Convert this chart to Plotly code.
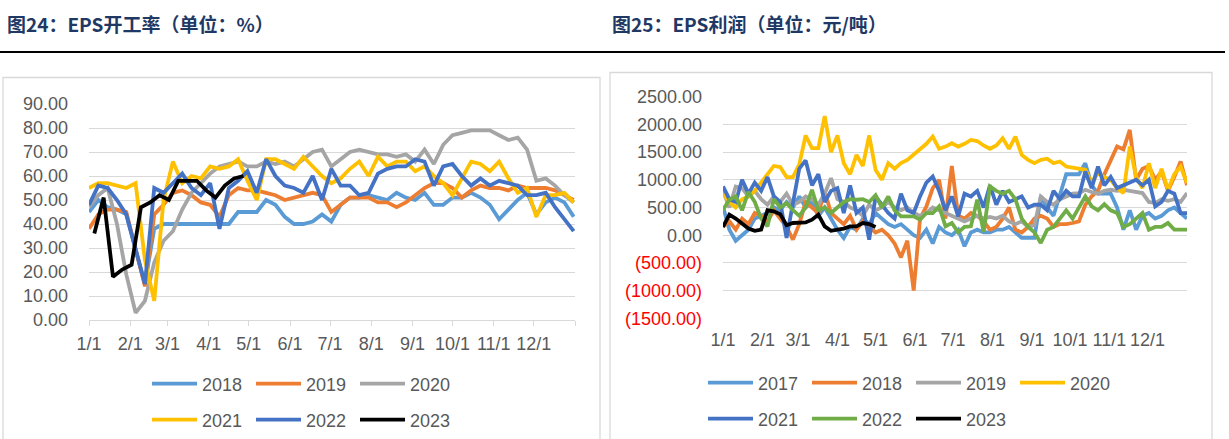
import plotly.graph_objects as go

W, H = 1229, 439

def fx(p):
    return p / W

def fy(p):
    return 1 - p / H

# ---------------- data ----------------
month_labels = ["1/1", "2/1", "3/1", "4/1", "5/1", "6/1", "7/1", "8/1", "9/1", "10/1", "11/1", "12/1"]
month_days = [1, 32, 60, 91, 121, 152, 182, 213, 244, 274, 305, 335]

# Left chart: EPS operating rate (%), weekly
rate_years = ["2018", "2019", "2020", "2021", "2022", "2023"]
rate_2018 = [45, 50, 47, 46, 44, 30, 15, 38, 40, 40, 40, 40, 40, 40, 40, 40, 45, 45, 45, 50,
             48, 43, 40, 40, 41, 44, 41, 48, 51, 51, 52, 51, 50, 53, 51, 50, 53, 48, 48, 51,
             51, 53, 51, 48, 42, 46, 50, 53, 44, 49, 51, 49, 43]
rate_2019 = [38, 44, 46, 46, 45, 30, 14, 44, 48, 53, 54, 52, 49, 48, 43, 52, 55, 54, 54, 53,
             52, 50, 51, 52, 53, 52, 45, 48, 51, 51, 51, 49, 49, 47, 49, 52, 55, 57, 57, 55,
             51, 54, 56, 55, 55, 54, 56, 55, 55, 55, 54, 52, 50]
rate_2020 = [47, 52, 55, 40, 19, 3, 8, 24, 33, 37, 46, 53, 57, 61, 64, 65, 66, 64, 64, 66,
             65, 66, 64, 67, 70, 71, 64, 67, 70, 71, 70, 69, 69, 68, 69, 66, 71, 65, 73, 77,
             78, 79, 79, 79, 77, 75, 76, 71, 58, 59, 56, 52, 49]
rate_2021 = [55, 57, 57, 56, 55, 57, 25, 8, 50, 66, 57, 60, 59, 64, 63, 64, 67, 58, 50, 67,
             67, 65, 63, 68, 64, 60, 57, 59, 63, 66, 60, 68, 64, 66, 66, 62, 64, 60, 57, 52,
             59, 66, 65, 62, 66, 59, 53, 55, 43, 52, 52, 53, 49]
rate_2022 = [48, 56, 55, 50, 44, 30, 15, 55, 53, 57, 61, 55, 52, 57, 38, 55, 58, 62, 53, 67,
             60, 56, 55, 53, 60, 50, 63, 56, 56, 52, 53, 61, 63, 64, 64, 67, 66, 56, 64, 65,
             60, 56, 59, 56, 58, 57, 56, 52, 52, 53, 47, 42, 37]
rate_2023 = [36, 51, 18, 21, 23, 47, 49, 52, 50, 58, 58, 58, 54, 51, 56, 59, 60]
rate_start_day = {"2018": 1, "2019": 1, "2020": 1, "2021": 1, "2022": 1, "2023": 5}

# Right chart: EPS profit (yuan/ton), every 5 days
profit_years = ["2017", "2018", "2019", "2020", "2021", "2022", "2023"]
profit_2017 = [520, 100, -100, 0, 100, 300, 350, 400, 500, 450, 600, 500, 700, 500, 600, 350, 500, 300, 100, -50,
               150, 100, 300, 200, 400, 300, 200, 150, 200, 100, 0, -50, 100, -150, 150, 50, 0, 100, -200, 50,
               100, 50, 50, 100, 100, 150, 50, -50, -50, -50, 700, 500, 350, 700, 1100, 1100, 1100, 1300, 900, 750,
               750, 750, 500, 100, 450, 100, 350, 400, 300, 350, 450, 500, 400, 300]
profit_2018 = [150, 250, 100, 300, 200, 400, 350, 250, 450, 300, 150, -80, 200, 600, 500, 400, 790, 400, 300, 200,
               350, 100, 250, 150, 50, 100, 0, -150, -400, -100, -1000, 300, 520, 850, 1000, 300, 1250, 350, 300, 400,
               350, 250, 100, 150, 300, 500, 100, 50, 150, 300, 350, 300, 150, 200, 200, 220, 250, 550, 700, 800,
               1100, 1350, 1600, 1550, 1900, 1000, 1200, 1250, 1000, 1150, 800, 1050, 1330, 900]
profit_2019 = [800, 500, 880, 850, 700, 800, 650, 550, 700, 600, 750, 550, 600, 700, 650, 550, 750, 1030, 650, 600,
               500, 450, 350, 550, 450, 500, 600, 500, 450, 500, 400, 350, 400, 500, 450, 400, 350, 300, 250, 300,
               350, 300, 330, 300, 350, 250, 200, 250, 150, 180, 700, 600, 550, 650, 700, 750, 760, 820, 780, 750,
               800, 820, 800, 820, 800, 780, 760, 600, 580, 650, 620, 650, 600, 760]
profit_2020 = [750, 600, 500, 650, 700, 800, 950, 1100, 1250, 1230, 1050, 1050, 1280, 1800, 1570, 1570, 2150, 1500, 1800, 1300,
               1100, 1450, 1250, 1800, 1180, 1000, 1300, 1200, 1300, 1360, 1450, 1550, 1650, 1780, 1560, 1600, 1660, 1600, 1650, 1720,
               1700, 1620, 1560, 1620, 1750, 1560, 1780, 1450, 1360, 1300, 1360, 1380, 1300, 1330, 1240, 1220, 1200, 1180, 950, 1120,
               1050, 1000, 850, 760, 1600, 1050, 850, 1300, 850, 1200, 820, 1100, 1240, 940]
profit_2021 = [880, 650, 600, 1000, 750, 950, 800, 1050, 700, 600, -50, 600, 1200, 1350, 900, 1100, 600, 800, 850, 400,
               900, 400, 500, -80, 700, 550, 400, 300, 750, 450, 400, 700, 950, 1060, 800, 450, 700, 340, 750, 700,
               800, 500, 900, 550, 800, 600, 650, 700, 500, 550, 550, 450, 800, 650, 800, 700, 700, 1150, 850, 1240,
               900, 1050, 850, 900, 950, 1000, 900, 1000, 520, 600, 800, 750, 400, 400]
profit_2022 = [460, 640, 700, 450, 780, 600, 300, 160, 650, 500, 580, 450, 350, 500, 820, 450, 500, 400, 500, 600,
               650, 640, 650, 600, 720, 500, 700, 450, 340, 340, 340, 280, 400, 400, 520, 160, 220, 50, 150, 160,
               640, 60, 880, 800, 750, 800, 650, 300, 150, 50, -140, 100, 150, 300, 450, 300, 500, 700, 520, 450,
               560, 450, 400, 150, 200, 300, 400, 100, 150, 150, 220, 100, 100, 100]
profit_2023 = [150, 370, 300, 200, 120, 80, 100, 450, 430, 380, 180, 220, 220, 230, 280, 370, 160, 80, 100, 120,
               160, 160, 220, 200, 150]

rate_series = dict(zip(rate_years, [rate_2018, rate_2019, rate_2020, rate_2021, rate_2022, rate_2023]))
profit_series = dict(zip(profit_years, [profit_2017, profit_2018, profit_2019, profit_2020,
                                        profit_2021, profit_2022, profit_2023]))

rate_ticks = list(range(0, 91, 10))
profit_ticks = list(range(-1500, 2501, 500))

# ---------------- styles ----------------
colors_rate = {"2018": "#5B9BD5", "2019": "#ED7D31", "2020": "#A5A5A5",
               "2021": "#FFC000", "2022": "#4472C4", "2023": "#000000"}
colors_profit = {"2017": "#5B9BD5", "2018": "#ED7D31", "2019": "#A5A5A5", "2020": "#FFC000",
                 "2021": "#4472C4", "2022": "#70AD47", "2023": "#000000"}
GRID = "#D9D9D9"
TXT = "#595959"
FONT = "Liberation Sans"
LW = 3.8

fig = go.Figure()

for i, yr in enumerate(rate_years):
    vals = rate_series[yr]
    xs = [rate_start_day[yr] + 7 * k for k in range(len(vals))]
    fig.add_trace(go.Scatter(
        x=xs, y=vals, mode="lines", name=yr,
        line=dict(color=colors_rate[yr], width=LW),
        xaxis="x", yaxis="y",
        legend="legend" if i < 3 else "legend2",
        hoverinfo="skip"))

for i, yr in enumerate(profit_years):
    vals = profit_series[yr]
    xs = [1 + 5 * k for k in range(len(vals))]
    fig.add_trace(go.Scatter(
        x=xs, y=vals, mode="lines", name=yr,
        line=dict(color=colors_profit[yr], width=LW),
        xaxis="x2", yaxis="y2",
        legend="legend3" if i < 4 else "legend4",
        hoverinfo="skip"))

x1_dom = [fx(89), fx(575)]
y1_dom = [fy(320), fy(104)]
x2_dom = [fx(723), fx(1187)]
y2_dom = [fy(318.3), fy(96.7)]
zero_pos = y2_dom[0] + (0 - profit_ticks[0]) / (profit_ticks[-1] - profit_ticks[0]) * (y2_dom[1] - y2_dom[0])

tick_font = dict(family=FONT, size=18, color=TXT)

profit_text = []
for v in profit_ticks:
    if v < 0:
        profit_text.append("<span style='color:#FF0000'>(%.2f)</span>" % abs(v))
    else:
        profit_text.append("%.2f" % v)

legend_common = dict(orientation="h", xanchor="left", yanchor="middle",
                     itemwidth=45, entrywidth=44, bgcolor="rgba(0,0,0,0)",
                     font=dict(family=FONT, size=18, color=TXT), traceorder="normal")

fig.update_layout(
    width=W, height=H,
    margin=dict(l=0, r=0, t=0, b=0, pad=0, autoexpand=False),
    paper_bgcolor="white", plot_bgcolor="white",
    xaxis=dict(domain=x1_dom, anchor="y", range=[1, 366], automargin=False,
               tickvals=month_days + [366], ticktext=month_labels + [""],
               ticks="outside", ticklen=5, tickcolor=GRID, tickwidth=1,
               showline=True, linecolor=GRID, linewidth=1,
               showgrid=False, zeroline=False, tickfont=tick_font, ticklabelstandoff=2),
    yaxis=dict(domain=y1_dom, anchor="x", range=[0, 90], automargin=False,
               tickvals=rate_ticks, ticktext=["%.2f" % v for v in rate_ticks],
               showgrid=True, gridcolor=GRID, gridwidth=1, zeroline=False,
               showline=False, ticks="", tickfont=tick_font, ticklabelstandoff=20),
    xaxis2=dict(domain=x2_dom, anchor="y2", range=[1, 366], automargin=False,
                tickvals=month_days, ticktext=month_labels,
                ticks="", showline=False, showgrid=False, zeroline=False,
                tickfont=tick_font, ticklabelstandoff=9),
    yaxis2=dict(domain=y2_dom, anchor="x2", range=[profit_ticks[0], profit_ticks[-1]], automargin=False,
                tickvals=profit_ticks, ticktext=profit_text,
                showgrid=True, gridcolor=GRID, gridwidth=1, zeroline=False,
                showline=False, ticks="", tickfont=tick_font, ticklabelstandoff=20),
    xaxis3=dict(domain=x2_dom, overlaying="x2", anchor="free", position=zero_pos,
                range=[1, 366], tickvals=month_days + [366], automargin=False,
                ticks="outside", ticklen=5, tickcolor=GRID, tickwidth=1,
                showticklabels=False, showline=True, linecolor=GRID, linewidth=1,
                showgrid=False, zeroline=False),
    legend=dict(x=fx(147), y=fy(384), **legend_common),
    legend2=dict(x=fx(147), y=fy(420), **legend_common),
    legend3=dict(x=fx(703), y=fy(383), **legend_common),
    legend4=dict(x=fx(703), y=fy(419), **legend_common),
    showlegend=True,
)

title_font = dict(family="Noto Sans CJK SC", size=19, color="#1F3864")
fig.add_annotation(text="<b>图24：EPS开工率（单位：%）</b>", x=fx(5), y=fy(23),
                   xref="paper", yref="paper", xanchor="left", yanchor="middle",
                   showarrow=False, font=title_font)
fig.add_annotation(text="<b>图25：EPS利润（单位：元/吨）</b>", x=fx(610), y=fy(23),
                   xref="paper", yref="paper", xanchor="left", yanchor="middle",
                   showarrow=False, font=title_font)

# header rule and chart frames
fig.add_shape(type="line", xref="paper", yref="paper", x0=0, x1=fx(1225), y0=fy(52), y1=fy(52),
              line=dict(color="black", width=2))
fig.add_shape(type="rect", xref="paper", yref="paper", x0=fx(3), x1=fx(600), y0=fy(450), y1=fy(77.5),
              line=dict(color=GRID, width=1.3))
fig.add_shape(type="rect", xref="paper", yref="paper", x0=fx(610), x1=fx(1212), y0=fy(450), y1=fy(72.5),
              line=dict(color=GRID, width=1.3))

fig.write_html("out.html")
